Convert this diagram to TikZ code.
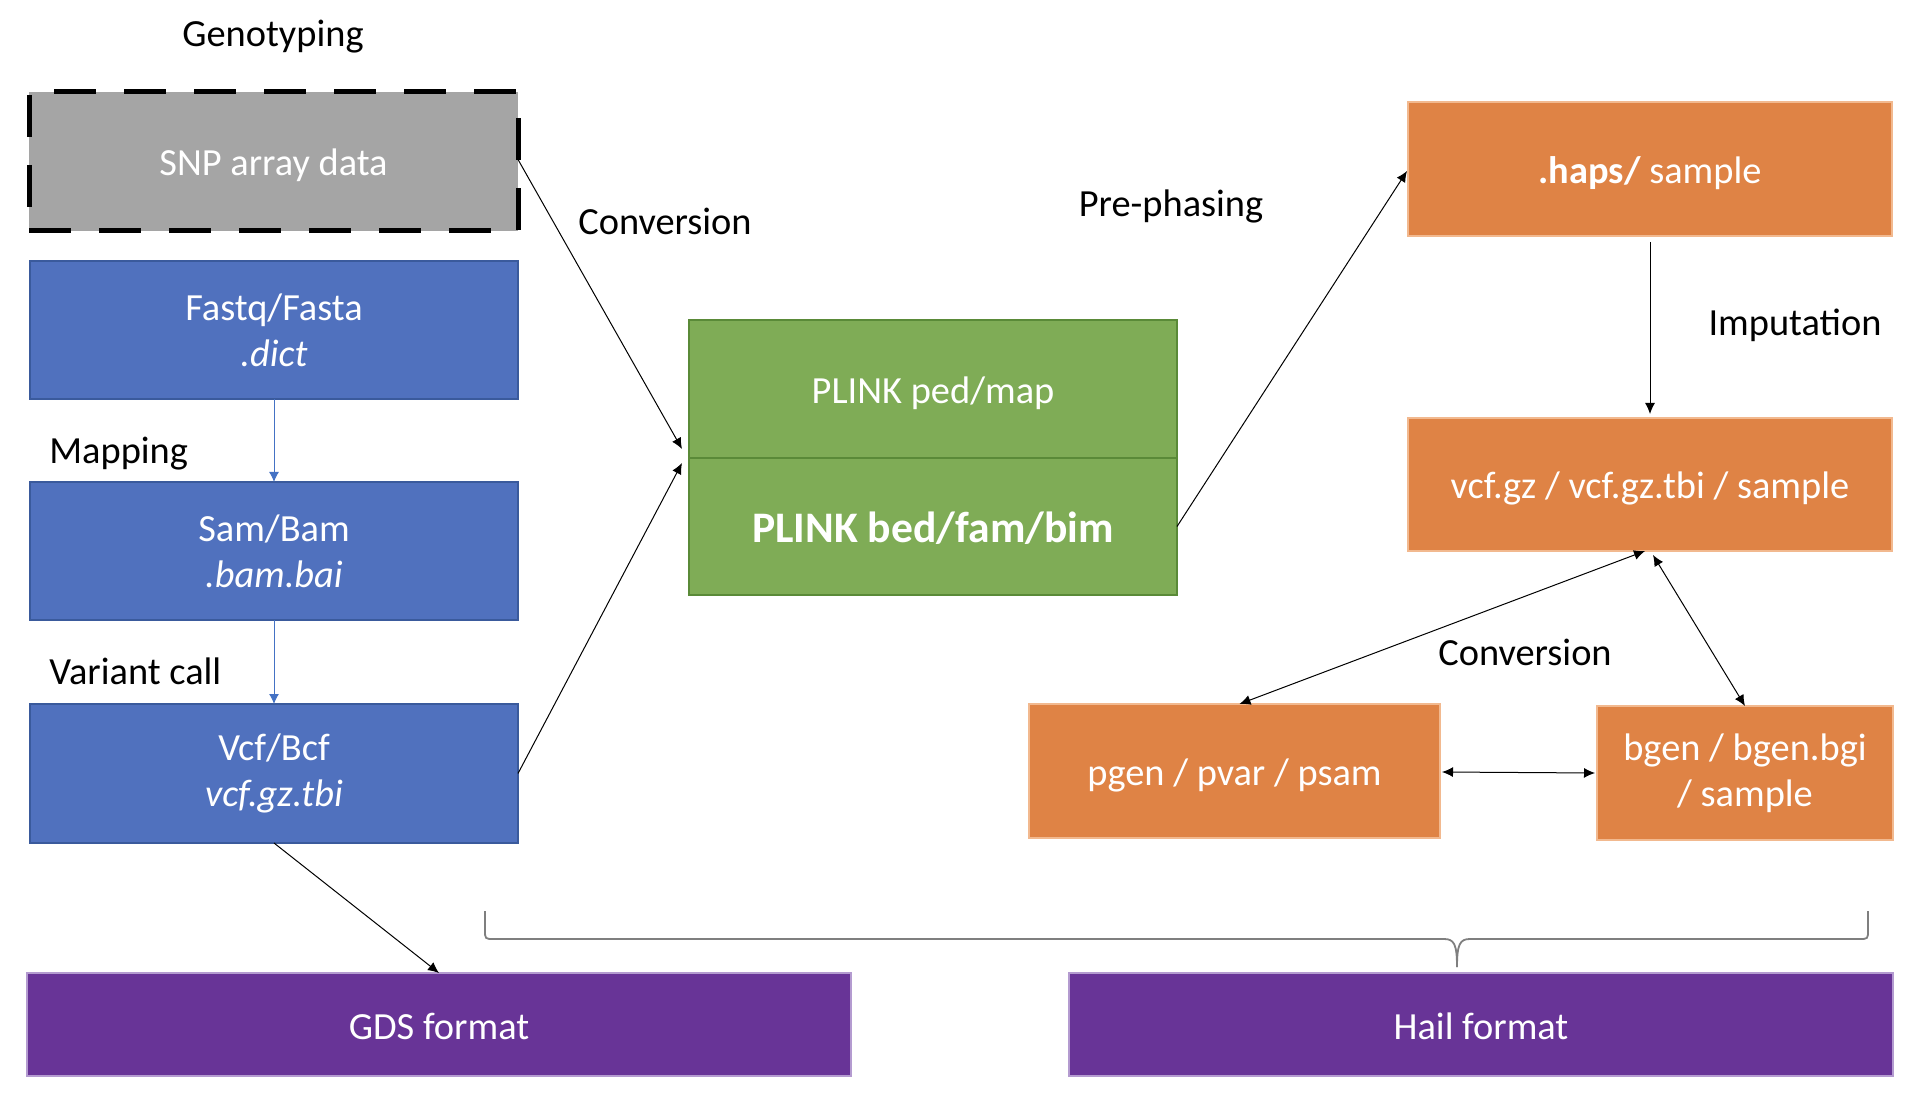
\documentclass[tikz,border=0pt]{standalone}
\usepackage{fontspec}
\setmainfont{Carlito}
\usetikzlibrary{arrows.meta,calc}
\definecolor{cblue}{HTML}{5071BE}
\definecolor{cbluedark}{HTML}{3A5A9C}
\definecolor{cbluearrow}{HTML}{4472C4}
\definecolor{cgreen}{HTML}{7FAC56}
\definecolor{cgreendark}{HTML}{5A8A38}
\definecolor{corange}{HTML}{DF8345}
\definecolor{corangelight}{HTML}{F2B98F}
\definecolor{cpurple}{HTML}{683497}
\definecolor{cpurplelight}{HTML}{B49BD0}
\definecolor{cgray}{HTML}{A5A5A5}
\definecolor{cbrace}{HTML}{7F7F7F}
\begin{document}
\begin{tikzpicture}[x=0.5pt,y=-0.5pt,
  font=\fontsize{19.2}{23}\selectfont,
  box/.style={line width=0.7pt, inner sep=0pt, outer sep=0pt, text=white, align=center},
  oneline/.style={text height=14.5pt, text depth=0pt},
  snpbox/.style={box, oneline, fill=cgray, draw=black, line width=2.5pt, dash pattern=on 21pt off 14pt},
  bluebox/.style={box, fill=cblue, draw=cbluedark},
  greenbox/.style={box, oneline, fill=cgreen, draw=cgreendark},
  orangebox/.style={box, fill=corange, draw=corangelight},
  purplebox/.style={box, oneline, fill=cpurple, draw=cpurplelight},
  lbl/.style={text=black, inner sep=0pt, text height=12.6pt, text depth=0pt},
  conn/.style={draw=black, line width=0.5pt, -{Latex[length=5.5pt,width=5pt]}},
  dconn/.style={draw=black, line width=0.5pt, {Latex[length=5.5pt,width=5pt]}-{Latex[length=5.5pt,width=5pt]}},
  blueconn/.style={draw=cbluearrow, line width=0.5pt, -{Latex[length=5pt,width=5pt]}},
  bracestyle/.style={draw=cbrace, line width=0.9pt}
]
\useasboundingbox (0,0) rectangle (1912,1096);

% left column
\node[snpbox, minimum width=244.5pt, minimum height=69.5pt] (snp) at (273.5,161.5) {SNP array data};
\node[bluebox, minimum width=244pt, minimum height=69pt] (fastq) at (274,330) {Fastq/Fasta\\\itshape .dict};
\node[bluebox, minimum width=244pt, minimum height=69pt] (sam) at (274,551) {Sam/Bam\\\itshape .bam.bai};
\node[bluebox, minimum width=244pt, minimum height=69.5pt] (vcf) at (274,773.5) {Vcf/Bcf\\\itshape vcf.gz.tbi};

% PLINK
\node[greenbox, minimum width=244pt, minimum height=69pt] (plinktop) at (933,389) {PLINK ped/map};
\node[greenbox, minimum width=244pt, minimum height=68.5pt, font=\fontsize{21.8}{24}\selectfont\bfseries, text height=16.5pt] (plinkbot) at (933,526.5) {PLINK bed/fam/bim};

% right side
\node[orangebox, oneline, minimum width=242pt, minimum height=67pt] (haps) at (1650,169) {{\bfseries .haps/} sample};
\node[orangebox, oneline, minimum width=242pt, minimum height=66.5pt] (vcfgz) at (1650,484.5) {vcf.gz / vcf.gz.tbi / sample};
\node[orangebox, oneline, minimum width=205.5pt, minimum height=67pt] (pgen) at (1234.5,771) {pgen / pvar / psam};
\node[orangebox, minimum width=148pt, minimum height=67pt] (bgen) at (1745,773) {bgen / bgen.bgi\\/ sample};

% bottom
\node[purplebox, minimum width=412pt, minimum height=51.5pt] (gds) at (439,1024.5) {GDS format};
\node[purplebox, minimum width=412pt, minimum height=51.5pt] (hail) at (1481,1024.5) {Hail format};

% labels
\node[lbl] (lgeno) at (273,34) {Genotyping};
\node[lbl] (lconv1) at (665,222) {Conversion};
\node[lbl, anchor=west] (lmap) at (49,451) {Mapping};
\node[lbl, anchor=west] (lvar) at (49,672) {Variant call};
\node[lbl] (lpre) at (1171,204) {Pre-phasing};
\node[lbl] (limp) at (1795,323) {Imputation};
\node[lbl] (lconv2) at (1525,653) {Conversion};

% connectors
\draw[blueconn] (fastq.south) -- (sam.north);
\draw[blueconn] (sam.south) -- (vcf.north);
\draw[conn] ($(snp.east)+(0,-2)$) -- ($(plinktop.south west)+(-7,-9)$);
\draw[conn] (vcf.east) -- ($(plinkbot.north west)+(-7,5)$);
\draw[conn] (vcf.south) -- (gds.north);
\draw[conn] (plinkbot.east) -- ($(haps.west)+(-1,2)$);
\draw[conn, shorten <=3pt, shorten >=2pt] (haps.south) -- (vcfgz.north);
\draw[dconn] ($(vcfgz.south)+(-5,0)$) -- ($(pgen.north)+(5,0)$);
\draw[dconn] ($(vcfgz.south)+(3,4)$) -- (bgen.north);
\draw[dconn] ($(pgen.east)+(2,1)$) -- ($(bgen.west)+(-2,0)$);

% brace
\coordinate (brl) at (485,911);
\coordinate (brr) at (1868,911);
\coordinate (brm) at (1457,967);
\draw[bracestyle] (brl) -- (485,930) .. controls (485,939) .. (494,939) -- (1444,939)
  .. controls (1454,939) and (1457,944) .. (brm);
\draw[bracestyle] (brm) .. controls (1457,944) and (1460,939) .. (1470,939) -- (1859,939)
  .. controls (1868,939) .. (1868,930) -- (brr);
\end{tikzpicture}
\end{document}
